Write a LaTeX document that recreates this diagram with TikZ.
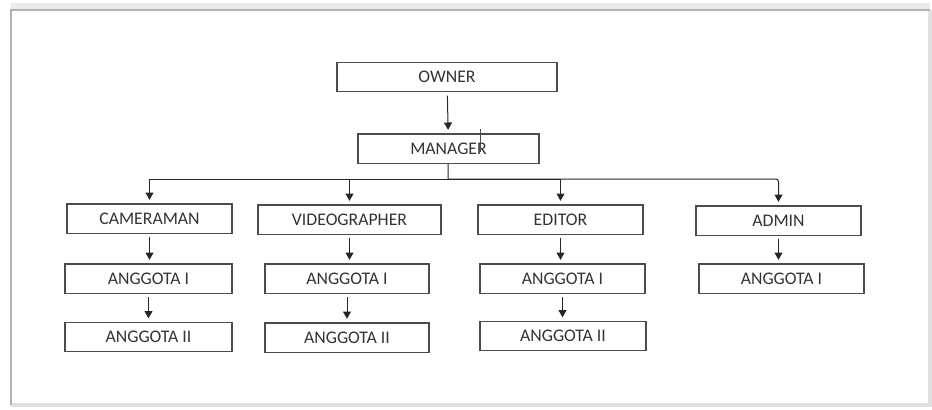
\documentclass[tikz,border=0pt]{standalone}
\usepackage{fontspec}
\setmainfont{Carlito}
\usepackage{tikz}
\usetikzlibrary{arrows.meta}

\begin{document}
\begin{tikzpicture}[x=0.75pt, y=-0.75pt,
        box/.style={draw=black!70, line width=1pt, minimum width=#1*0.75pt, minimum height=22pt, inner sep=0pt, text=black!80, font=\fontsize{13.3}{16}\selectfont},
        arr/.style={-{Triangle[width=6pt,length=5.5pt]}, line width=0.75pt, black!85, shorten <=2.5pt, shorten >=2.5pt},
        link/.style={line width=0.75pt, black!85}]
        % Page frame
        \useasboundingbox (0,0) rectangle (932,410);
        \draw[black!8, line width=4pt] (11,6) -- (930,6);
        \draw[black!12, line width=2.5pt] (11,405) -- (930,405) -- (930,10);
        \draw[black!30, line width=1.5pt] (11,405) -- (11,10) -- (930,10);

        % Nodes
        \node[box=220] (owner) at (447, 77) {OWNER};
        \node[box=181] (manager) at (448.5, 148.5) {MANAGER};
        \node[box=165] (cameraman) at (149.5, 218.5) {CAMERAMAN};
        \node[box=183] (videographer) at (349.5, 219.5) {VIDEOGRAPHER};
        \node[box=165] (editor) at (560.5, 219.5) {EDITOR};
        \node[box=165] (admin) at (778.5, 220.5) {ADMIN};
        \node[box=167] (cam1) at (148.5, 278.5) {ANGGOTA I};
        \node[box=164] (vid1) at (347, 278.5) {ANGGOTA I};
        \node[box=165] (ed1) at (562.5, 278.5) {ANGGOTA I};
        \node[box=165] (adm1) at (781.5, 278.5) {ANGGOTA I};
        \node[box=167] (cam2) at (148.5, 337) {ANGGOTA II};
        \node[box=164] (vid2) at (347, 337.5) {ANGGOTA II};
        \node[box=166] (ed2) at (563, 336) {ANGGOTA II};
        \coordinate (bus) at (448, 179);
        \coordinate (tick) at (480, 129);

        % Edges
        \draw[arr] (owner) -- (manager);
        \draw[link] (manager) -- (bus);
        \draw[arr, shorten <=0pt] (bus) -| (cameraman);
        \draw[arr, shorten <=0pt] (bus) -| (videographer);
        \draw[arr, shorten <=0pt] (bus) -| (editor);
        \draw[arr, shorten <=0pt, rounded corners=2pt] (bus) -| (admin);
        \draw[arr] (cameraman) -- (cameraman |- cam1.north);
        \draw[arr] (videographer) -- (videographer |- vid1.north);
        \draw[arr] (editor) -- (editor |- ed1.north);
        \draw[arr] (admin) -- (admin |- adm1.north);
        \draw[arr] (cam1) -- (cam1 |- cam2.north);
        \draw[arr] (vid1) -- (vid1 |- vid2.north);
        \draw[arr] (ed1) -- (ed1 |- ed2.north);
        \draw[black!70, line width=0.6pt] (tick) -- ++(0, 23);
    \end{tikzpicture}
\end{document}
